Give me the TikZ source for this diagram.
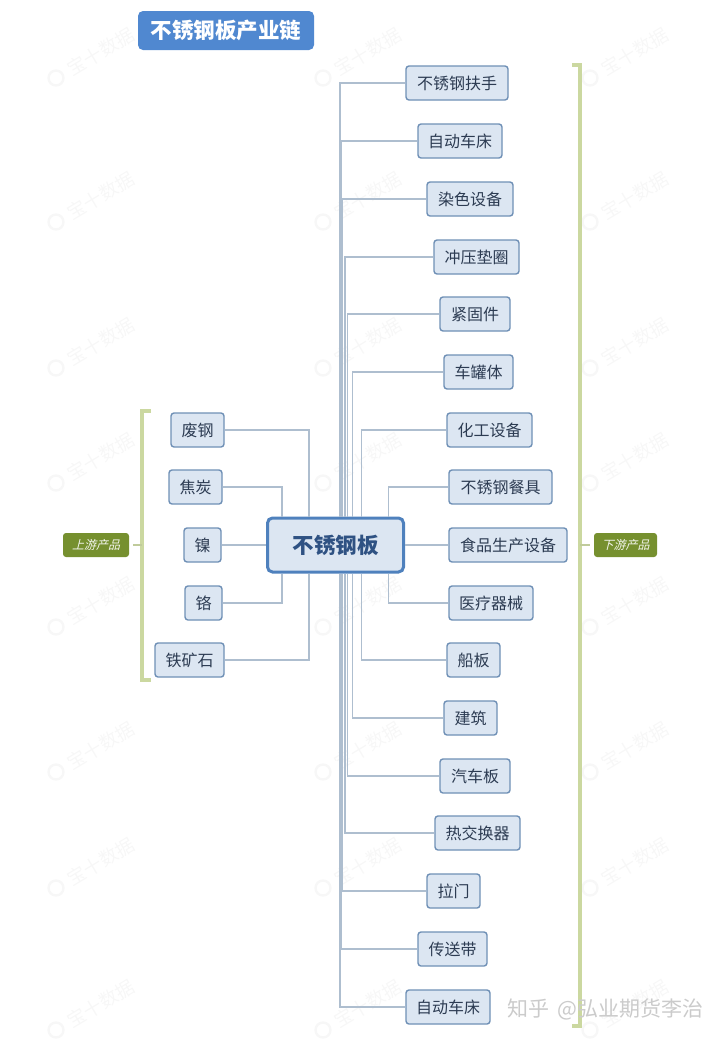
\documentclass[tikz,border=0pt]{standalone}
\usepackage{fontspec}
\setmainfont{Noto Sans CJK SC}
\newfontfamily\cjkslant[FakeSlant=0.25]{Noto Sans CJK SC}
\definecolor{boxfill}{HTML}{DCE6F2}
\definecolor{boxline}{HTML}{6F90B6}
\definecolor{boxtext}{HTML}{2C3B52}
\definecolor{hubline}{HTML}{4F81BD}
\definecolor{hubtext}{HTML}{2F5283}
\definecolor{linkcol}{HTML}{AEBECF}
\definecolor{bracketcol}{HTML}{CBD8A0}
\definecolor{tagfill}{HTML}{76902F}
\definecolor{titlefill}{HTML}{5088D0}
\definecolor{markcol}{HTML}{F7F7F7}
\definecolor{signcol}{HTML}{CBCBCB}
\tikzset{
  itembox/.style={draw=boxline,line width=1.4pt,fill=boxfill,rounded corners=3pt,
    minimum height=34pt,inner sep=0pt,text=boxtext,font=\fontsize{16}{16}\selectfont},
  hubbox/.style={draw=hubline,line width=3pt,fill=boxfill,rounded corners=5pt,
    minimum width=136pt,minimum height=54pt,inner sep=0pt,text=hubtext,
    font=\fontsize{21.5}{22}\selectfont\bfseries},
  titlebox/.style={fill=titlefill,rounded corners=5pt,minimum width=176pt,minimum height=39pt,
    inner sep=0pt,text=white,font=\fontsize{21.5}{22}\selectfont\bfseries},
  tagbox/.style={fill=tagfill,rounded corners=3pt,minimum height=24pt,inner sep=0pt,
    text=white!92!tagfill,font=\fontsize{12}{12}\cjkslant},
  link/.style={draw=linkcol,line width=1.3pt},
  bracket/.style={draw=bracketcol,line width=3.3pt},
  stub/.style={draw=bracketcol!85!gray,line width=2.4pt},
  markring/.style={draw=markcol,line width=2.4pt,circle,minimum size=15pt,inner sep=0pt},
  marktext/.style={text=markcol,rotate=31,anchor=west,inner sep=0pt,font=\fontsize{18.5}{18.5}\selectfont},
  sign/.style={text=signcol,anchor=west,inner sep=0pt,font=\fontsize{21}{21}\selectfont}
}
\begin{document}
\begin{tikzpicture}[x=1pt,y=-1pt]
\useasboundingbox (0,0) rectangle (720,1039);
% faint watermarks
\foreach \wy [count=\wi] in {78,222,368,483,627,772,888,1030}{
  \foreach \wx [count=\wj] in {56,323,590}{
    \node[markring] (wr\wi w\wj) at (\wx,\wy) {};
    \node[marktext] (wt\wi w\wj) at (\wx+13,\wy-7) {宝十数据};
  }
}
% hub
\node[hubbox] (hub) at (335.5,545) {不锈钢板};
\node[titlebox] (title) at (226,30.5) {不锈钢板产业链};
% right items: name/left/right/y/trunk x/text
\foreach \nm/\lft/\rgt/\yy/\tx/\lbl in {
  r1/406/508/83/340/不锈钢扶手,
  r2/418/502/141/341/自动车床,
  r3/427/513/199/342.2/染色设备,
  r4/434/519/257/345/冲压垫圈,
  r5/440/510/314/347.5/紧固件,
  r6/444/513/372/352.5/车罐体,
  r7/447/532/430/361.5/化工设备,
  r8/449/552/487/388.5/不锈钢餐具,
  r10/449/533/603/388.5/医疗器械,
  r11/447/500/660/361.5/船板,
  r12/444/497/718/352.5/建筑,
  r13/440/510/776/347.5/汽车板,
  r14/435/520/833/345/热交换器,
  r15/427/480/891/342.2/拉门,
  r16/418/487/949/341/传送带,
  r17/406/490/1007/340/自动车床}{
  \pgfmathsetmacro{\cx}{(\lft+\rgt)/2}
  \pgfmathsetmacro{\bw}{\rgt-\lft}
  \node[itembox,minimum width=\bw pt] (\nm) at (\cx,\yy) {\lbl};
  \coordinate (\nm t) at (\tx,\yy);
  \pgfmathparse{\yy<545?"north":"south"}
  \edef\hubside{\pgfmathresult}
  \draw[link] (\nm.west) -- (\nm t) -- (\nm t |- hub.\hubside);
}
\node[itembox,minimum width=118pt] (r9) at (508,545) {食品生产设备};
\draw[link] (hub.east) -- (r9.west);
% left items
\foreach \nm/\lft/\rgt/\yy/\tx/\lbl in {
  l1/171/224/430/309/废钢,
  l2/169/222/487/282/焦炭,
  l4/185/222/603/282/铬,
  l5/155/224/660/309/铁矿石}{
  \pgfmathsetmacro{\cx}{(\lft+\rgt)/2}
  \pgfmathsetmacro{\bw}{\rgt-\lft}
  \node[itembox,minimum width=\bw pt] (\nm) at (\cx,\yy) {\lbl};
  \coordinate (\nm t) at (\tx,\yy);
  \pgfmathparse{\yy<545?"north":"south"}
  \edef\hubside{\pgfmathresult}
  \draw[link] (\nm.east) -- (\nm t) -- (\nm t |- hub.\hubside);
}
\node[itembox,minimum width=37pt] (l3) at (202.5,545) {镍};
\draw[link] (l3.east) -- (hub.west);
% brackets
\coordinate (lb1) at (151,411);
\coordinate (lb2) at (142,411);
\coordinate (lb3) at (142,680);
\coordinate (lb4) at (151,680);
\draw[bracket] (lb1) -- (lb2) -- (lb3) -- (lb4);
\coordinate (rb1) at (572,65);
\coordinate (rb2) at (580,65);
\coordinate (rb3) at (580,1026);
\coordinate (rb4) at (572,1026);
\draw[bracket] (rb1) -- (rb2) -- (rb3) -- (rb4);
\node[tagbox,minimum width=66pt] (upt) at (96,545) {上游产品};
\node[tagbox,minimum width=63pt] (dnt) at (625.5,545) {下游产品};
\coordinate (lbm) at (142,545);
\coordinate (rbm) at (580,545);
\draw[stub] ([xshift=4pt]upt.east) -- (lbm);
\draw[stub] (rbm) -- ([xshift=-4pt]dnt.west);
% corner signature
\node[sign] (zhihu) at (507,1009) {知乎\hspace{8pt}@弘业期货李治};
\end{tikzpicture}
\end{document}
